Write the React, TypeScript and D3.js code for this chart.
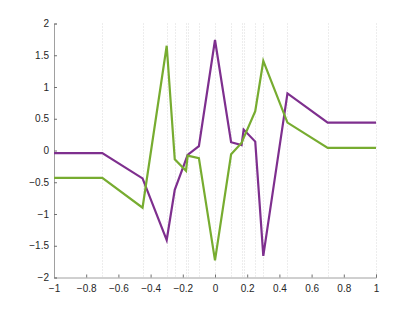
import React, { useRef, useEffect } from "react";
import * as d3 from "d3";

// knots (shared x positions) and the two series
const knots = [-1, -0.7, -0.45, -0.3, -0.25, -0.18, -0.17, -0.1, 0, 0.1, 0.165, 0.178, 0.25, 0.3, 0.45, 0.7, 1];
const purpleVals = [-0.04, -0.04, -0.44, -1.41, -0.62, -0.14, -0.07, 0.07, 1.74, 0.13, 0.085, 0.33, 0.14, -1.66, 0.9, 0.44, 0.44];
const greenVals = [-0.43, -0.43, -0.9, 1.65, -0.14, -0.32, -0.08, -0.12, -1.73, -0.06, 0.12, 0.2, 0.62, 1.41, 0.44, 0.04, 0.04];
const xTicks = [-1, -0.8, -0.6, -0.4, -0.2, 0, 0.2, 0.4, 0.6, 0.8, 1];
const yTicks = [-2, -1.5, -1, -0.5, 0, 0.5, 1, 1.5, 2];

const W = 415;
const H = 312;

function Chart() {
  const svgRef = useRef<SVGSVGElement>(null);

  useEffect(() => {
    const svg = d3.select(svgRef.current);
    svg.selectAll("*").remove();

    const margin = { top: 23.5, right: 39, bottom: 34.5, left: 54 };
    const x = d3.scaleLinear().domain([-1, 1]).range([margin.left, W - margin.right]);
    const y = d3.scaleLinear().domain([-2, 2]).range([H - margin.bottom, margin.top]);

    // dotted knot lines
    svg.append("g")
      .selectAll("line")
      .data(knots.filter(k => k > -1))
      .enter()
      .append("line")
      .attr("x1", d => Math.round(x(d)) + 0.5)
      .attr("x2", d => Math.round(x(d)) + 0.5)
      .attr("y1", y(2))
      .attr("y2", y(-2))
      .attr("stroke", "#d0d0d0")
      .attr("stroke-width", 0.8)
      .attr("stroke-dasharray", "1,2");

    const font = "'Liberation Sans', Arial, sans-serif";

    const xAxis = svg.append("g")
      .attr("transform", `translate(0,${y(-2)})`)
      .call(d3.axisBottom(x).tickValues(xTicks).tickSize(-3).tickPadding(7).tickFormat(d3.format("")));
    const yAxis = svg.append("g")
      .attr("transform", `translate(${x(-1)},0)`)
      .call(d3.axisLeft(y).tickValues(yTicks).tickSize(-3).tickPadding(5).tickFormat(d3.format("")));

    [xAxis, yAxis].forEach(a => {
      a.select(".domain").attr("stroke", "#a0a0a0").attr("stroke-width", 1);
      a.selectAll(".tick line").attr("stroke", "#707070");
      a.selectAll("text").attr("fill", "#262626").style("font-family", font).style("font-size", "10px");
    });

    const line = d3.line<number>()
      .x((_, i) => x(knots[i]))
      .y(d => y(d));

    svg.append("path")
      .datum(purpleVals)
      .attr("d", line)
      .attr("fill", "none")
      .attr("stroke", "#7E2F8E")
      .attr("stroke-width", 2.2)
      .attr("stroke-linejoin", "miter");

    svg.append("path")
      .datum(greenVals)
      .attr("d", line)
      .attr("fill", "none")
      .attr("stroke", "#77AC30")
      .attr("stroke-width", 2.2)
      .attr("stroke-linejoin", "miter");
  }, []);

  return <svg ref={svgRef} width={W} height={H} style={{ display: "block" }}></svg>;
}

export default function App() {
  return (
    <div style={{ position: "absolute", left: 0, top: 0 }}>
      <Chart />
    </div>
  );
}
